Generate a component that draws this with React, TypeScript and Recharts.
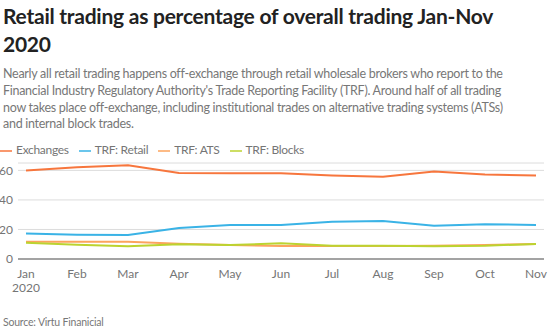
import { CartesianGrid, Legend, Line, LineChart, XAxis, YAxis } from 'recharts';

const months = ['Jan', 'Feb', 'Mar', 'Apr', 'May', 'Jun', 'Jul', 'Aug', 'Sep', 'Oct', 'Nov'];
const exchanges = [60, 62.2, 63.5, 58.3, 58, 58, 56.6, 55.7, 59.3, 57.2, 56.6];
const trfRetail = [17.2, 16.5, 16.2, 21, 23, 23, 25.2, 25.7, 22.5, 23.6, 23];
const trfAts = [11.6, 11.6, 11.6, 10.3, 9.5, 8.8, 8.8, 8.8, 8.9, 9.5, 10.2];
const trfBlocks = [11, 9.6, 8.7, 10, 9.4, 10.7, 9, 8.9, 8.6, 9, 10.2];
const yTicks = [0, 20, 40, 60];
const seriesNames = ['Exchanges', 'TRF: Retail', 'TRF: ATS', 'TRF: Blocks'];

const data = months.map((m, i) => ({
  month: m,
  exchanges: exchanges[i],
  retail: trfRetail[i],
  ats: trfAts[i],
  blocks: trfBlocks[i],
}));

const FONT = 'Lato, "Open Sans", sans-serif';
const GREY = '#757575';

function MonthTick(props: any) {
  const { x, y, payload, index } = props;
  return (
    <text x={x} y={y} textAnchor="middle" fill={GREY} fontSize={12} fontFamily={FONT}>
      <tspan x={x} dy={11}>{payload.value}</tspan>
      {index === 0 && <tspan x={x} dy={14}>2020</tspan>}
    </text>
  );
}

export default function App() {
  return (
    <div style={{ position: 'absolute', left: 0, top: 0, width: 554, height: 336, background: '#fff', fontFamily: FONT }}>
      <div style={{ position: 'absolute', left: 3, top: 2, fontSize: 21, fontWeight: 700, lineHeight: '28px', color: '#222', whiteSpace: 'nowrap', letterSpacing: -0.25 }}>
        Retail trading as percentage of overall trading Jan-Nov
        <br />
        2020
      </div>
      <div style={{ position: 'absolute', left: 3, top: 66, fontSize: 12.5, lineHeight: '16.8px', color: '#777', whiteSpace: 'nowrap', letterSpacing: -0.28 }}>
        Nearly all retail trading happens off-exchange through retail wholesale brokers who report to the
        <br />
        Financial Industry Regulatory Authority's Trade Reporting Facility (TRF). Around half of all trading
        <br />
        now takes place off-exchange, including institutional trades on alternative trading systems (ATSs)
        <br />
        and internal block trades.
      </div>
      <div style={{ position: 'absolute', top: 138, left: 0 }}>
        <LineChart width={554} height={158} data={data} margin={{ top: 4, right: 10, bottom: 0, left: 0 }}>
          <Legend
            verticalAlign="top"
            align="left"
            height={21}
            iconType="plainline"
            iconSize={12}
            itemSorter={(item: any) => seriesNames.indexOf(item.value)}
            wrapperStyle={{ fontSize: 12, fontFamily: FONT, left: 0 }}
            formatter={(value: string) => <span style={{ color: GREY, letterSpacing: -0.3 }}>{value}</span>}
          />
          <CartesianGrid vertical={false} stroke="#dcdcdc" />
          <XAxis
            dataKey="month"
            interval={0}
            padding={{ left: 8, right: 8 }}
            tickLine={false}
            axisLine={{ stroke: '#8a8a8a', strokeWidth: 1.5 }}
            height={37}
            tick={<MonthTick />}
          />
          <YAxis
            domain={[0, 65]}
            ticks={yTicks}
            width={18}
            tickLine={false}
            axisLine={false}
            tickSize={0}
            tickMargin={5}
            tick={{ fill: GREY, fontSize: 12, fontFamily: FONT }}
          />
          <Line dataKey="exchanges" name="Exchanges" stroke="#f7763d" strokeWidth={2} dot={false} isAnimationActive={false} />
          <Line dataKey="retail" name="TRF: Retail" stroke="#3ab3e6" strokeWidth={2} dot={false} isAnimationActive={false} />
          <Line dataKey="ats" name="TRF: ATS" stroke="#fca45e" strokeWidth={2} dot={false} isAnimationActive={false} />
          <Line dataKey="blocks" name="TRF: Blocks" stroke="#bcd330" strokeWidth={2} dot={false} isAnimationActive={false} />
        </LineChart>
      </div>
      <div style={{ position: 'absolute', left: 3, top: 316, fontSize: 10.5, color: '#777', letterSpacing: -0.2 }}>
        Source: Virtu Finanicial
      </div>
    </div>
  );
}
